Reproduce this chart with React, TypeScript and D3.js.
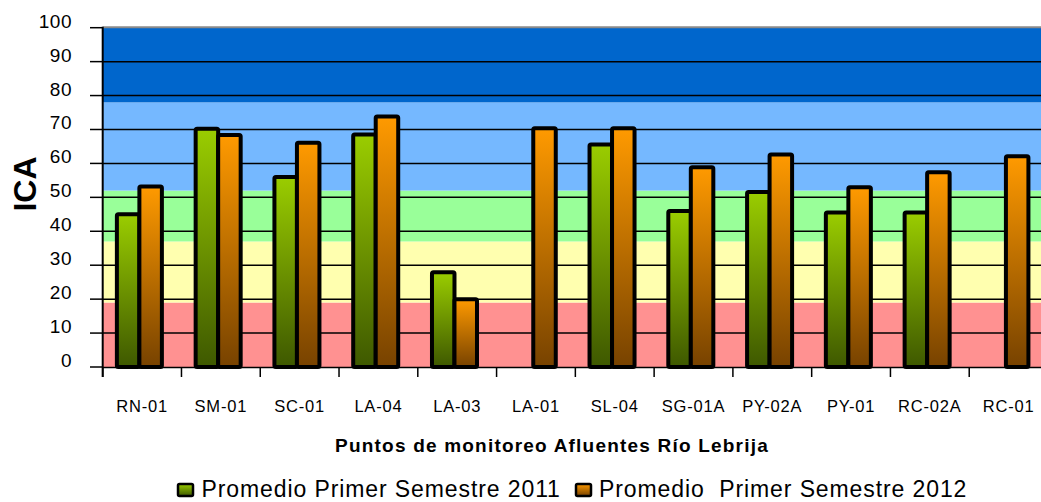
import React from "react";
import * as d3 from "d3";

const categories = ["RN-01", "SM-01", "SC-01", "LA-04", "LA-03", "LA-01", "SL-04", "SG-01A", "PY-02A", "PY-01", "RC-02A", "RC-01"];
const series2011: (number | null)[] = [45.0, 70.2, 56.0, 68.5, 27.9, null, 65.6, 46.0, 51.6, 45.5, 45.5, null];
const series2012: (number | null)[] = [53.2, 68.4, 66.1, 73.8, 20.0, 70.4, 70.4, 58.9, 62.6, 53.0, 57.4, 62.1];
const seriesNames = ["Promedio Primer Semestre 2011", "Promedio  Primer Semestre 2012"];
const yTicks = [0, 10, 20, 30, 40, 50, 60, 70, 80, 90, 100];
const bandBreaks = [0, 19, 37, 52, 78, 100];
const bandColors = ["#FF9191", "#FFFFAF", "#99FF99", "#75B8FF", "#0066CC"];

const W = 1041;
const H = 502;
const FONT = "'Liberation Sans', Arial, sans-serif";

export default function App() {
  const y = d3.scaleLinear().domain([0, 100]).range([367, 27.7]);
  const x0 = d3.scaleBand<string>().domain(categories).range([102.7, 1048]).padding(0);
  const x1 = d3
    .scaleBand<string>()
    .domain(["s2011", "s2012"])
    .range([0, x0.bandwidth()])
    .paddingInner(0)
    .paddingOuter(0.75)
    .align(0.42);
  const plotL = 102.7;
  const plotR = 1048;
  const y0 = y(0);

  const bars: { key: string; cat: string; v: number; s: string }[] = [];
  categories.forEach((c, i) => {
    if (series2011[i] != null) bars.push({ key: c + "a", cat: c, v: series2011[i] as number, s: "s2011" });
    if (series2012[i] != null) bars.push({ key: c + "b", cat: c, v: series2012[i] as number, s: "s2012" });
  });

  return (
    <svg width={W} height={H} style={{ position: "absolute", left: 0, top: 0, background: "#fff" }} fontFamily={FONT}>
      <defs>
        <linearGradient id="gGreen" x1="0" y1="0" x2="0" y2="1">
          <stop offset="0" stopColor="#9ACD00" />
          <stop offset="1" stopColor="#3E5800" />
        </linearGradient>
        <linearGradient id="gOrange" x1="0" y1="0" x2="0" y2="1">
          <stop offset="0" stopColor="#FF9A00" />
          <stop offset="1" stopColor="#774200" />
        </linearGradient>
      </defs>
      {/* bands */}
      {bandColors.map((c, i) => (
        <rect
          key={"band" + i}
          x={plotL}
          y={y(bandBreaks[i + 1])}
          width={plotR - plotL}
          height={y(bandBreaks[i]) - y(bandBreaks[i + 1])}
          fill={c}
        />
      ))}
      {/* top border */}
      <line x1={plotL} x2={plotR} y1={y(100) - 0.5} y2={y(100) - 0.5} stroke="#8a8a8a" strokeWidth={2} />
      {/* gridlines */}
      {yTicks.filter((t) => t > 0 && t < 100).map((t) => (
        <line key={"g" + t} x1={plotL} x2={plotR} y1={y(t)} y2={y(t)} stroke="#000" strokeWidth={1.5} />
      ))}
      {/* y axis */}
      <line x1={plotL} x2={plotL} y1={y(100) - 1} y2={y(0) + 10} stroke="#000" strokeWidth={2} />
      {yTicks.map((t) => (
        <g key={"yt" + t}>
          <line x1={90} x2={plotL} y1={y(t)} y2={y(t)} stroke="#000" strokeWidth={1.5} />
          <text x={72} y={y(t)} textAnchor="end" fontSize={19} letterSpacing={0.5} fill="#000">
            {t}
          </text>
        </g>
      ))}
      {/* bars */}
      {bars.map((b) => (
        <rect
          key={b.key}
          x={(x0(b.cat) as number) + (x1(b.s) as number)}
          y={y(b.v)}
          width={x1.bandwidth()}
          height={y0 - y(b.v)}
          fill={b.s === "s2011" ? "url(#gGreen)" : "url(#gOrange)"}
          stroke="#000"
          strokeWidth={4}
          rx={1.5}
        />
      ))}
      {/* x axis */}
      <line x1={plotL} x2={plotR} y1={y0 + 0.5} y2={y0 + 0.5} stroke="#000" strokeWidth={1.5} />
      {categories.map((c) => (
        <line key={"xt" + c} x1={x0(c) as number} x2={x0(c) as number} y1={y0} y2={y0 + 10} stroke="#000" strokeWidth={1.5} />
      ))}
      {categories.map((c) => (
        <text
          key={"xl" + c}
          x={(x0(c) as number) + x0.bandwidth() / 2}
          y={411.5}
          textAnchor="middle"
          fontSize={16.5}
          letterSpacing={0.8}
          fill="#000"
        >
          {c}
        </text>
      ))}
      {/* axis titles */}
      <text x={552} y={451.5} textAnchor="middle" fontSize={19} fontWeight="bold" letterSpacing={1.2} fill="#000">
        Puntos de monitoreo Afluentes Río Lebrija
      </text>
      <text
        transform={`translate(36,184) rotate(-90)`}
        textAnchor="middle"
        fontSize={32}
        fontWeight="bold"
        fill="#000"
      >
        ICA
      </text>
      {/* legend */}
      <g>
        <rect x={178} y={484} width={15} height={12} fill="url(#gGreen)" stroke="#000" strokeWidth={2.5} rx={1.5} />
        <text x={201.5} y={497} fontSize={23} letterSpacing={0.9} fill="#000" style={{ whiteSpace: "pre" }}>
          {seriesNames[0]}
        </text>
        <rect x={576} y={484} width={15} height={12} fill="url(#gOrange)" stroke="#000" strokeWidth={2.5} rx={1.5} />
        <text x={599} y={497} fontSize={23} letterSpacing={0.9} fill="#000" style={{ whiteSpace: "pre" }}>
          {seriesNames[1]}
        </text>
      </g>
    </svg>
  );
}
